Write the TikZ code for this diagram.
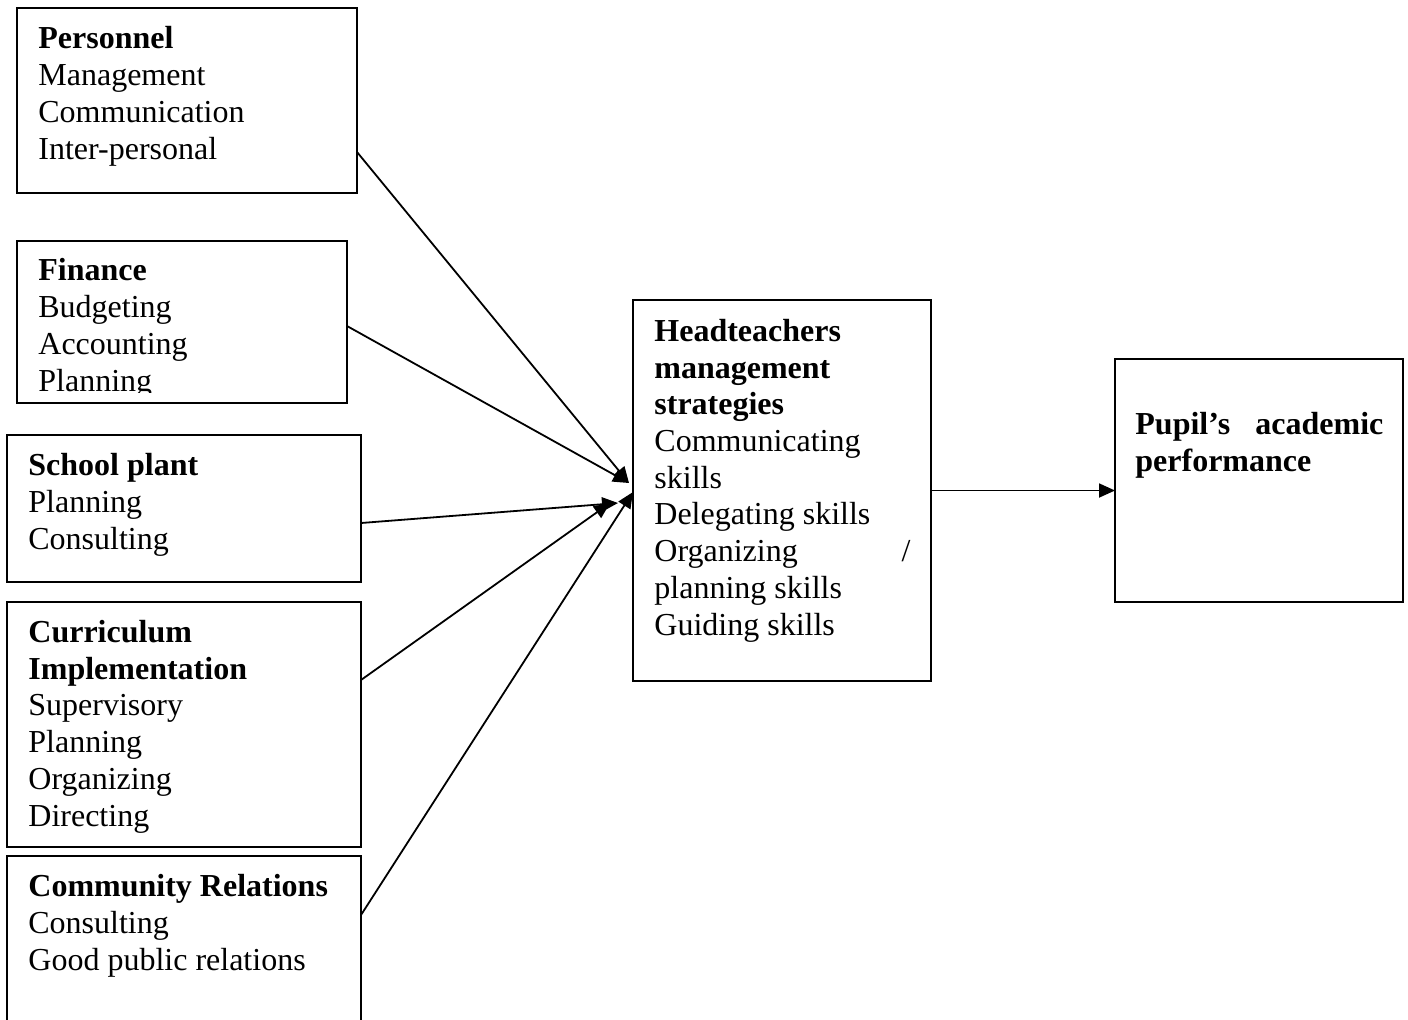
\documentclass[tikz,border=0pt]{standalone}
\usepackage{fontspec}
\setmainfont{Liberation Serif}
\usetikzlibrary{calc,arrows.meta}
\begin{document}
\begin{tikzpicture}[x=0.5pt,y=-0.5pt,
  box/.style={draw, line width=0.9pt, anchor=north west, inner sep=0pt, outer sep=0pt},
  txt/.style={anchor=base west, inner sep=0pt, align=left,
              font=\fontsize{16}{18.35}\selectfont},
  conn/.style={line width=0.9pt, -{Triangle[length=8pt,width=7pt]}}]
\clip (0,0) rectangle (1408,1019);
\fill[white] (0,0) rectangle (1408,1019);
% boxes
\node[box, minimum width=170pt, minimum height=92.5pt] (pers) at (17,8) {};
\node[box, minimum width=165pt, minimum height=81pt] (fin) at (17,241) {};
\node[box, minimum width=177pt, minimum height=73.5pt] (plant) at (7,435) {};
\node[box, minimum width=177pt, minimum height=122.5pt] (curr) at (7,602) {};
\node[box, minimum width=177pt, minimum height=100pt] (comm) at (7,856) {};
\node[box, minimum width=149pt, minimum height=190.5pt] (head) at (633,300) {};
\node[box, minimum width=144pt, minimum height=121.5pt] (pupil) at (1115,359) {};
% texts (anchored at the baseline of their last line)
\node[txt] (perst) at (38,159) {\textbf{Personnel}\\Management\\Communication\\Inter-personal};
\begin{scope}
\clip ($(fin.north west)$) rectangle ($(fin.south east)+(0,-11)$);
\node[txt] (fint) at (38,391) {\textbf{Finance}\\Budgeting\\Accounting\\Planning};
\end{scope}
\node[txt] (plantt) at (28,549) {\textbf{School plant}\\Planning\\Consulting};
\node[txt] (currt) at (28,826) {\textbf{Curriculum}\\\textbf{Implementation}\\Supervisory\\Planning\\Organizing\\Directing};
\node[txt] (commt) at (28,970) {\textbf{Community Relations}\\Consulting\\Good public relations};
\node[txt] (headt) at (654,635) {\textbf{Headteachers}\\\textbf{management}\\\textbf{strategies}\\Communicating\\skills\\Delegating skills\\\hbox to 128pt{Organizing\hfill/}\\planning skills\\Guiding skills};
\node[txt] (pupilt) at (1135,471) {\hbox to 124pt{\textbf{Pupil’s}\hfill\textbf{academic}}\\\textbf{performance}};
% arrow end points
\coordinate (e1) at ($(head.north west)+(-4,183)$);
\coordinate (e2) at ($(head.north west)+(-15,203)$);
\coordinate (e3) at ($(head.north west)+(-23,203)$);
\coordinate (e4) at ($(head.north west)+(0,192)$);
% connectors
\draw[conn] ($(pers.north east)+(0,144)$) -- (e1);
\draw[conn] ($(fin.north east)+(0,85)$) -- (e1);
\draw[conn] ($(plant.north east)+(0,88)$) -- (e2);
\draw[conn] ($(curr.north east)+(0,78)$) -- (e3);
\draw[conn] ($(comm.north east)+(0,59)$) -- (e4);
\draw[conn] (head.east) -- (head.east -| pupil.west);
\end{tikzpicture}
\end{document}
